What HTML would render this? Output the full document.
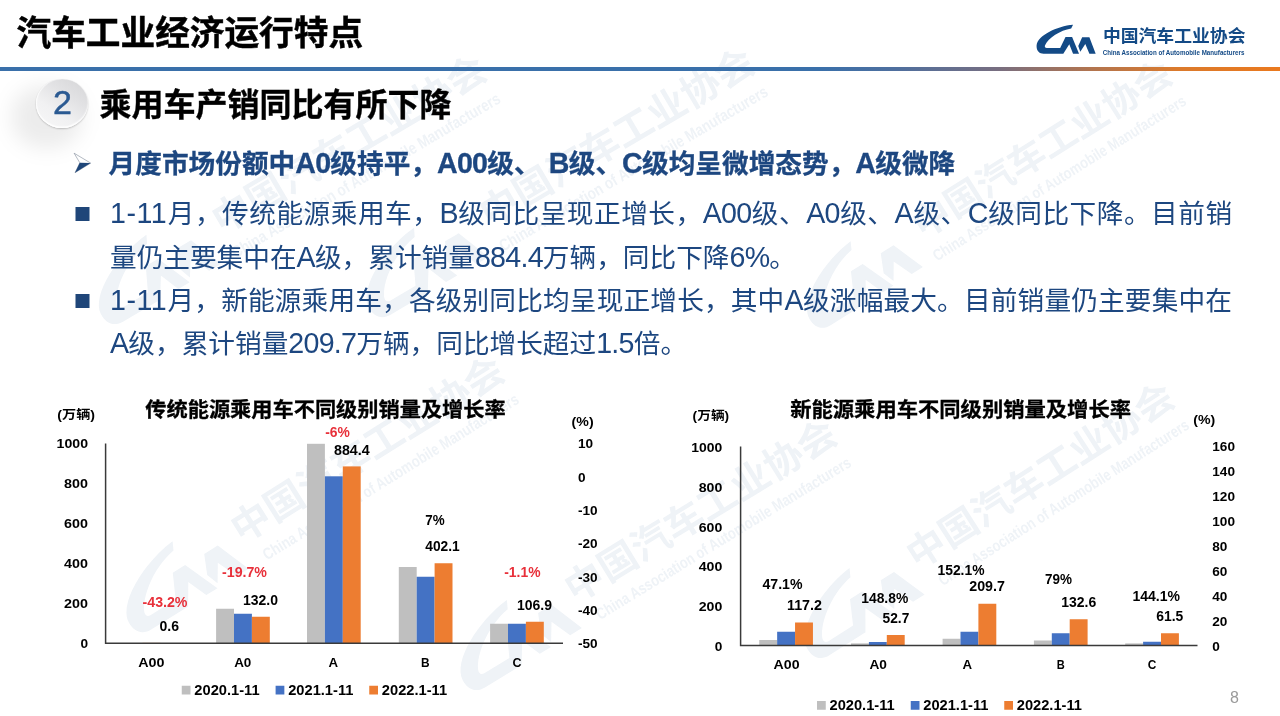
<!DOCTYPE html>
<html lang="zh-CN">
<head>
<meta charset="utf-8">
<title>汽车工业经济运行特点</title>
<style>
html,body{margin:0;padding:0;background:#fff;}
body{width:1280px;height:716px;overflow:hidden;position:relative;font-family:"Liberation Sans","Noto Sans CJK SC",sans-serif;}
#page{position:absolute;left:0;top:0;width:1280px;height:716px;overflow:hidden;background:#fff;}
.abs{position:absolute;white-space:nowrap;}
#title{left:16.5px;top:8.2px;font-size:34.67px;line-height:50px;font-weight:bold;color:#000;letter-spacing:0;-webkit-text-stroke:0.45px #000;}
#rule{left:0;top:66.6px;width:1280px;height:4.2px;background:linear-gradient(to right,#3a70aa 0%,#3a70aa 64%,#4f6f9e 70%,#786e80 78%,#b07450 85%,#db7a2c 92%,#ea791e 100%);}
#sub{left:99.5px;top:80px;font-size:32px;line-height:50px;font-weight:bold;color:#000;-webkit-text-stroke:0.35px #000;}
.b{color:#1d4780;font-size:26.67px;line-height:44px;}
.l{font-size:28.6px;letter-spacing:-0.72px;line-height:0;}
.l2{letter-spacing:0.55px;}
.just{text-align:justify;text-align-last:justify;width:1122px;}
#num{left:36.4px;top:79px;width:52px;height:49px;border-radius:50%;background:linear-gradient(215deg,#d4d4d6 0%,#e2e2e4 35%,#f1f1f2 65%,#f8f8f8 100%);box-shadow:inset 0 -1.5px 1.5px #fff, inset 1px 0 1px rgba(255,255,255,.8), 0 1px 2px rgba(0,0,0,0.22);}
#numt{left:36.4px;top:76.3px;width:52px;height:52px;line-height:52px;text-align:center;font-size:34px;color:#2b5a92;-webkit-text-stroke:0.45px #2b5a92;}
#shadow{left:12px;top:86px;width:70px;height:62px;border-radius:45%;background:rgba(0,0,0,0.075);filter:blur(10px);}
#pg{left:1230px;top:689.2px;font-size:16px;line-height:18px;color:#9a9a9a;}
svg{position:absolute;left:0;top:0;}
svg text{font-family:"Liberation Sans","Noto Sans CJK SC",sans-serif;}
</style>
</head>
<body>
<div id="page">
<svg width="1280" height="716" viewBox="0 0 1280 716">
<defs>
<filter id="wb" x="-5%" y="-5%" width="110%" height="110%"><feGaussianBlur stdDeviation="0.7"/></filter>
<g id="cam">
<path d="M685,155 C430,175 115,330 105,485 C100,575 150,615 215,615 L530,615 L625,465 L685,615 L780,615 L670,350 L565,350 L480,525 L265,525 C240,525 230,505 240,480 C290,370 480,240 655,215 Z"/>
<path d="M830,355 L945,355 L1045,615 L945,615 L880,460 L800,585 L768,495 Z"/>
</g>
<g id="logo">
<use href="#cam" transform="translate(1030,15) scale(0.06285)"/>
<text x="1102.9" y="42.4" font-size="17.4" font-weight="bold" textLength="142.6" lengthAdjust="spacingAndGlyphs">中国汽车工业协会</text>
<text x="1102.8" y="55" font-size="7.6" font-weight="bold" textLength="141.6" lengthAdjust="spacingAndGlyphs">China Association of Automobile Manufacturers</text>
</g>
<g id="logo2">
<use href="#cam" transform="translate(1034,15) scale(0.06285)"/>
<text x="1102.9" y="42.4" font-size="17.4" font-weight="bold" textLength="142.6" lengthAdjust="spacingAndGlyphs">中国汽车工业协会</text>
<text x="1108.8" y="55" font-size="7.4" font-weight="bold" textLength="135.6" lengthAdjust="spacingAndGlyphs">China Association of Automobile Manufacturers</text>
</g>
</defs>
<g fill="#134a86" opacity="0.068" filter="url(#wb)">
<use href="#logo" transform="translate(109.2,330.6) rotate(-30.5) scale(2.18) translate(-1036,-54)"/>
<use href="#logo" transform="translate(376.8,323.7) rotate(-30.5) scale(2.18) translate(-1036,-54)"/>
<use href="#logo" transform="translate(817.7,334.2) rotate(-32.2) scale(2.09) translate(-1036,-54)"/>
<use href="#logo2" transform="translate(130.1,643.6) rotate(-32) scale(2.2) translate(-1036,-54)"/>
<use href="#logo2" transform="translate(463.9,701.2) rotate(-31.5) scale(2.18) translate(-1036,-54)"/>
<use href="#logo2" transform="translate(808.7,669.4) rotate(-32.6) scale(2.167) translate(-1036,-54)"/>
</g>
<g fill="#134a86"><use href="#logo"/></g>
<rect x="216.1" y="608.75" width="17.9" height="34.55" fill="#bfbfbf"/>
<rect x="234.0" y="613.75" width="17.9" height="29.55" fill="#4472c4"/>
<rect x="251.9" y="616.75" width="17.9" height="26.55" fill="#ed7d31"/>
<rect x="307.0" y="443.8" width="17.9" height="199.5" fill="#bfbfbf"/>
<rect x="324.9" y="476.3" width="17.9" height="167.0" fill="#4472c4"/>
<rect x="342.8" y="466.4" width="17.9" height="176.9" fill="#ed7d31"/>
<rect x="398.8" y="567" width="17.9" height="76.3" fill="#bfbfbf"/>
<rect x="416.7" y="576.75" width="17.9" height="66.55" fill="#4472c4"/>
<rect x="434.6" y="563.25" width="17.9" height="80.05" fill="#ed7d31"/>
<rect x="490.1" y="623.75" width="17.9" height="19.55" fill="#bfbfbf"/>
<rect x="508.0" y="623.75" width="17.9" height="19.55" fill="#4472c4"/>
<rect x="525.9" y="621.75" width="17.9" height="21.55" fill="#ed7d31"/>
<rect x="142.5" y="642.9" width="17.9" height="0.4" fill="#ed7d31"/>
<path d="M105.6,443.5 V643.2 H563" fill="none" stroke="#3a3a3a" stroke-width="1.5"/>
<text x="145.3" y="416.6" font-size="20" font-weight="bold" fill="#000" text-anchor="start" textLength="360.4" lengthAdjust="spacingAndGlyphs" stroke="#000" stroke-width="0.3">传统能源乘用车不同级别销量及增长率</text>
<text x="57.3" y="418.8" font-size="12.2" font-weight="bold" fill="#000" text-anchor="start" textLength="37.7" lengthAdjust="spacingAndGlyphs">(万辆)</text>
<text x="56.6" y="448.3" font-size="13.6" font-weight="bold" fill="#000" text-anchor="start" textLength="31.4" lengthAdjust="spacingAndGlyphs">1000</text>
<text x="64.1" y="488.3" font-size="13.6" font-weight="bold" fill="#000" text-anchor="start" textLength="23.9" lengthAdjust="spacingAndGlyphs">800</text>
<text x="64.1" y="528.3" font-size="13.6" font-weight="bold" fill="#000" text-anchor="start" textLength="23.9" lengthAdjust="spacingAndGlyphs">600</text>
<text x="64.1" y="568.3" font-size="13.6" font-weight="bold" fill="#000" text-anchor="start" textLength="23.9" lengthAdjust="spacingAndGlyphs">400</text>
<text x="64.1" y="608.3" font-size="13.6" font-weight="bold" fill="#000" text-anchor="start" textLength="23.9" lengthAdjust="spacingAndGlyphs">200</text>
<text x="80.4" y="648.3" font-size="13.6" font-weight="bold" fill="#000" text-anchor="start" textLength="7.6" lengthAdjust="spacingAndGlyphs">0</text>
<text x="571.6" y="426" font-size="13" font-weight="bold" fill="#000" text-anchor="start" textLength="22" lengthAdjust="spacingAndGlyphs">(%)</text>
<text x="577.9" y="448.3" font-size="13.6" font-weight="bold" fill="#000" text-anchor="start">10</text>
<text x="577.9" y="481.63" font-size="13.6" font-weight="bold" fill="#000" text-anchor="start">0</text>
<text x="577.9" y="514.96" font-size="13.6" font-weight="bold" fill="#000" text-anchor="start">-10</text>
<text x="577.9" y="548.29" font-size="13.6" font-weight="bold" fill="#000" text-anchor="start">-20</text>
<text x="577.9" y="581.62" font-size="13.6" font-weight="bold" fill="#000" text-anchor="start">-30</text>
<text x="577.9" y="614.95" font-size="13.6" font-weight="bold" fill="#000" text-anchor="start">-40</text>
<text x="577.9" y="648.28" font-size="13.6" font-weight="bold" fill="#000" text-anchor="start">-50</text>
<text x="138.25" y="667" font-size="13.3" font-weight="bold" fill="#000" text-anchor="start" textLength="26.3" lengthAdjust="spacingAndGlyphs">A00</text>
<text x="234.15" y="667" font-size="13.3" font-weight="bold" fill="#000" text-anchor="start" textLength="17.2" lengthAdjust="spacingAndGlyphs">A0</text>
<text x="328.4" y="667" font-size="13.3" font-weight="bold" fill="#000" text-anchor="start" textLength="9.6" lengthAdjust="spacingAndGlyphs">A</text>
<text x="421.1" y="667" font-size="13.3" font-weight="bold" fill="#000" text-anchor="start" textLength="8.6" lengthAdjust="spacingAndGlyphs">B</text>
<text x="512.4" y="667" font-size="13.3" font-weight="bold" fill="#000" text-anchor="start" textLength="9.0" lengthAdjust="spacingAndGlyphs">C</text>
<text x="142.5" y="607.4" font-size="14.2" font-weight="bold" fill="#e8303a" text-anchor="start" textLength="45" lengthAdjust="spacingAndGlyphs">-43.2%</text>
<text x="159.5" y="630.9" font-size="14.2" font-weight="bold" fill="#000" text-anchor="start" textLength="19.5" lengthAdjust="spacingAndGlyphs">0.6</text>
<text x="222" y="576.9" font-size="14.2" font-weight="bold" fill="#e8303a" text-anchor="start" textLength="45" lengthAdjust="spacingAndGlyphs">-19.7%</text>
<text x="243" y="604.9" font-size="14.2" font-weight="bold" fill="#000" text-anchor="start" textLength="35" lengthAdjust="spacingAndGlyphs">132.0</text>
<text x="325.2" y="437.2" font-size="14.2" font-weight="bold" fill="#e8303a" text-anchor="start" textLength="24.7" lengthAdjust="spacingAndGlyphs">-6%</text>
<text x="334" y="454.8" font-size="14.2" font-weight="bold" fill="#000" text-anchor="start" textLength="35.7" lengthAdjust="spacingAndGlyphs">884.4</text>
<text x="425.3" y="525.1" font-size="14.2" font-weight="bold" fill="#000" text-anchor="start" textLength="19.4" lengthAdjust="spacingAndGlyphs">7%</text>
<text x="425.3" y="551.0" font-size="14.2" font-weight="bold" fill="#000" text-anchor="start" textLength="34.4" lengthAdjust="spacingAndGlyphs">402.1</text>
<text x="504.25" y="577.4" font-size="14.2" font-weight="bold" fill="#e8303a" text-anchor="start" textLength="36.25" lengthAdjust="spacingAndGlyphs">-1.1%</text>
<text x="517" y="609.9" font-size="14.2" font-weight="bold" fill="#000" text-anchor="start" textLength="35" lengthAdjust="spacingAndGlyphs">106.9</text>
<rect x="181.75" y="685.75" width="8.75" height="8.75" fill="#bfbfbf"/>
<text x="194.35" y="695" font-size="14.2" font-weight="bold" fill="#000" text-anchor="start" textLength="65.2" lengthAdjust="spacingAndGlyphs">2020.1-11</text>
<rect x="275.6" y="685.75" width="8.75" height="8.75" fill="#4472c4"/>
<text x="288.2" y="695" font-size="14.2" font-weight="bold" fill="#000" text-anchor="start" textLength="65.2" lengthAdjust="spacingAndGlyphs">2021.1-11</text>
<rect x="369.25" y="685.75" width="8.75" height="8.75" fill="#ed7d31"/>
<text x="381.85" y="695" font-size="14.2" font-weight="bold" fill="#000" text-anchor="start" textLength="65.2" lengthAdjust="spacingAndGlyphs">2022.1-11</text>
<rect x="759.25" y="640" width="17.9" height="5.6" fill="#bfbfbf"/>
<rect x="777.15" y="631.75" width="17.9" height="13.85" fill="#4472c4"/>
<rect x="795.05" y="622.5" width="17.9" height="23.1" fill="#ed7d31"/>
<rect x="851.0" y="643.4" width="17.9" height="2.2" fill="#bfbfbf"/>
<rect x="868.9" y="642" width="17.9" height="3.6" fill="#4472c4"/>
<rect x="886.8" y="635" width="17.9" height="10.6" fill="#ed7d31"/>
<rect x="942.6" y="638.75" width="17.9" height="6.85" fill="#bfbfbf"/>
<rect x="960.5" y="631.75" width="17.9" height="13.85" fill="#4472c4"/>
<rect x="978.4" y="603.75" width="17.9" height="41.85" fill="#ed7d31"/>
<rect x="1033.9" y="640.5" width="17.9" height="5.1" fill="#bfbfbf"/>
<rect x="1051.8" y="633.25" width="17.9" height="12.35" fill="#4472c4"/>
<rect x="1069.7" y="619.25" width="17.9" height="26.35" fill="#ed7d31"/>
<rect x="1125.2" y="643.4" width="17.9" height="2.2" fill="#bfbfbf"/>
<rect x="1143.1" y="641.75" width="17.9" height="3.85" fill="#4472c4"/>
<rect x="1161.0" y="633.25" width="17.9" height="12.35" fill="#ed7d31"/>
<path d="M740.6,446.6 V645.5 H1197.5" fill="none" stroke="#3a3a3a" stroke-width="1.5"/>
<text x="790.2" y="416.6" font-size="20" font-weight="bold" fill="#000" text-anchor="start" textLength="340.8" lengthAdjust="spacingAndGlyphs" stroke="#000" stroke-width="0.3">新能源乘用车不同级别销量及增长率</text>
<text x="692.6" y="420.4" font-size="12.2" font-weight="bold" fill="#000" text-anchor="start" textLength="36.6" lengthAdjust="spacingAndGlyphs">(万辆)</text>
<text x="691.3" y="452.1" font-size="13.6" font-weight="bold" fill="#000" text-anchor="start" textLength="31.0" lengthAdjust="spacingAndGlyphs">1000</text>
<text x="698.7" y="491.85" font-size="13.6" font-weight="bold" fill="#000" text-anchor="start" textLength="23.6" lengthAdjust="spacingAndGlyphs">800</text>
<text x="698.7" y="531.6" font-size="13.6" font-weight="bold" fill="#000" text-anchor="start" textLength="23.6" lengthAdjust="spacingAndGlyphs">600</text>
<text x="698.7" y="571.35" font-size="13.6" font-weight="bold" fill="#000" text-anchor="start" textLength="23.6" lengthAdjust="spacingAndGlyphs">400</text>
<text x="698.7" y="611.1" font-size="13.6" font-weight="bold" fill="#000" text-anchor="start" textLength="23.6" lengthAdjust="spacingAndGlyphs">200</text>
<text x="714.7" y="650.85" font-size="13.6" font-weight="bold" fill="#000" text-anchor="start" textLength="7.6" lengthAdjust="spacingAndGlyphs">0</text>
<text x="1193.3" y="423.5" font-size="13" font-weight="bold" fill="#000" text-anchor="start" textLength="22" lengthAdjust="spacingAndGlyphs">(%)</text>
<text x="1212.3" y="451.4" font-size="13.6" font-weight="bold" fill="#000" text-anchor="start">160</text>
<text x="1212.3" y="476.29999999999995" font-size="13.6" font-weight="bold" fill="#000" text-anchor="start">140</text>
<text x="1212.3" y="501.2" font-size="13.6" font-weight="bold" fill="#000" text-anchor="start">120</text>
<text x="1212.3" y="526.0999999999999" font-size="13.6" font-weight="bold" fill="#000" text-anchor="start">100</text>
<text x="1212.3" y="551.0" font-size="13.6" font-weight="bold" fill="#000" text-anchor="start">80</text>
<text x="1212.3" y="575.9" font-size="13.6" font-weight="bold" fill="#000" text-anchor="start">60</text>
<text x="1212.3" y="600.8" font-size="13.6" font-weight="bold" fill="#000" text-anchor="start">40</text>
<text x="1212.3" y="625.6999999999999" font-size="13.6" font-weight="bold" fill="#000" text-anchor="start">20</text>
<text x="1212.3" y="650.5999999999999" font-size="13.6" font-weight="bold" fill="#000" text-anchor="start">0</text>
<text x="773.6" y="669.3" font-size="13.3" font-weight="bold" fill="#000" text-anchor="start" textLength="26.0" lengthAdjust="spacingAndGlyphs">A00</text>
<text x="869.45" y="669.3" font-size="13.3" font-weight="bold" fill="#000" text-anchor="start" textLength="17.5" lengthAdjust="spacingAndGlyphs">A0</text>
<text x="962.5" y="669.3" font-size="13.3" font-weight="bold" fill="#000" text-anchor="start" textLength="9.6" lengthAdjust="spacingAndGlyphs">A</text>
<text x="1056.8" y="669.3" font-size="13.3" font-weight="bold" fill="#000" text-anchor="start" textLength="8.0" lengthAdjust="spacingAndGlyphs">B</text>
<text x="1147.8" y="669.3" font-size="13.3" font-weight="bold" fill="#000" text-anchor="start" textLength="8.6" lengthAdjust="spacingAndGlyphs">C</text>
<text x="762.5" y="588.7" font-size="14.2" font-weight="600" fill="#000" text-anchor="start" textLength="40" lengthAdjust="spacingAndGlyphs">47.1%</text>
<text x="787" y="610.2" font-size="14.2" font-weight="600" fill="#000" text-anchor="start" textLength="35" lengthAdjust="spacingAndGlyphs">117.2</text>
<text x="861.25" y="602.7" font-size="14.2" font-weight="600" fill="#000" text-anchor="start" textLength="47" lengthAdjust="spacingAndGlyphs">148.8%</text>
<text x="882.5" y="623.2" font-size="14.2" font-weight="600" fill="#000" text-anchor="start" textLength="26.8" lengthAdjust="spacingAndGlyphs">52.7</text>
<text x="937.5" y="575.2" font-size="14.2" font-weight="600" fill="#000" text-anchor="start" textLength="47" lengthAdjust="spacingAndGlyphs">152.1%</text>
<text x="969.25" y="591.4" font-size="14.2" font-weight="600" fill="#000" text-anchor="start" textLength="35.7" lengthAdjust="spacingAndGlyphs">209.7</text>
<text x="1045" y="584.4" font-size="14.2" font-weight="600" fill="#000" text-anchor="start" textLength="27" lengthAdjust="spacingAndGlyphs">79%</text>
<text x="1061.25" y="606.9" font-size="14.2" font-weight="600" fill="#000" text-anchor="start" textLength="35" lengthAdjust="spacingAndGlyphs">132.6</text>
<text x="1132.5" y="600.9" font-size="14.2" font-weight="600" fill="#000" text-anchor="start" textLength="47.5" lengthAdjust="spacingAndGlyphs">144.1%</text>
<text x="1156.25" y="621.4" font-size="14.2" font-weight="600" fill="#000" text-anchor="start" textLength="27" lengthAdjust="spacingAndGlyphs">61.5</text>
<rect x="817" y="701" width="8.75" height="8.75" fill="#bfbfbf"/>
<text x="829.5" y="710.2" font-size="14.2" font-weight="bold" fill="#000" text-anchor="start" textLength="65.2" lengthAdjust="spacingAndGlyphs">2020.1-11</text>
<rect x="910.75" y="701" width="8.75" height="8.75" fill="#4472c4"/>
<text x="923.25" y="710.2" font-size="14.2" font-weight="bold" fill="#000" text-anchor="start" textLength="65.2" lengthAdjust="spacingAndGlyphs">2021.1-11</text>
<rect x="1004.25" y="701" width="8.75" height="8.75" fill="#ed7d31"/>
<text x="1016.75" y="710.2" font-size="14.2" font-weight="bold" fill="#000" text-anchor="start" textLength="65.2" lengthAdjust="spacingAndGlyphs">2022.1-11</text>
<path d="M74.1,153.2 L90.7,163.1 L75,172.7 L79.8,162.8 Z" fill="#fff" stroke="#7f8a99" stroke-width="0.6"/>
<path d="M79.8,162.8 L90.7,163.1 L75,172.7 Z" fill="#1f4679"/>
<rect x="75.5" y="207" width="14" height="14" fill="#1f4679"/>
<rect x="75.5" y="294" width="14" height="14" fill="#1f4679"/>
</svg>
<div class="abs" id="shadow"></div>
<div class="abs" id="num"></div>
<div class="abs" id="numt">2</div>
<div class="abs" id="title">汽车工业经济运行特点</div>
<div class="abs" id="rule"></div>
<div class="abs" id="sub">乘用车产销同比有所下降</div>
<div class="abs b" style="left:108.6px;top:141.8px;font-weight:bold;-webkit-text-stroke:0.3px #1d4780;word-spacing:0.8px;width:846.6px;text-align-last:justify;">月度市场份额中<span class="l">A0</span>级持平，<span class="l">A00</span>级、 <span class="l">B</span>级、<span class="l">C</span>级均呈微增态势，<span class="l">A</span>级微降</div>
<div class="abs b" style="left:110px;top:192px;width:1122px;text-align-last:justify;"><span class="l l2">1-11</span>月，传统能源乘用车，<span class="l">B</span>级同比呈现正增长，<span class="l">A00</span>级、<span class="l">A0</span>级、<span class="l">A</span>级、<span class="l">C</span>级同比下降。目前销</div>
<div class="abs b" style="left:110px;top:235.5px;">量仍主要集中在<span class="l">A</span>级，累计销量<span class="l">884.4</span>万辆，同比下降<span class="l">6%</span>。</div>
<div class="abs b" style="left:110px;top:279px;width:1122px;text-align-last:justify;"><span class="l l2">1-11</span>月，新能源乘用车，各级别同比均呈现正增长，其中<span class="l">A</span>级涨幅最大。目前销量仍主要集中在</div>
<div class="abs b" style="left:110px;top:322px;"><span class="l">A</span>级，累计销量<span class="l">209.7</span>万辆，同比增长超过<span class="l">1.5</span>倍。</div>
<div class="abs" id="pg">8</div>
</div>
</body>
</html>
